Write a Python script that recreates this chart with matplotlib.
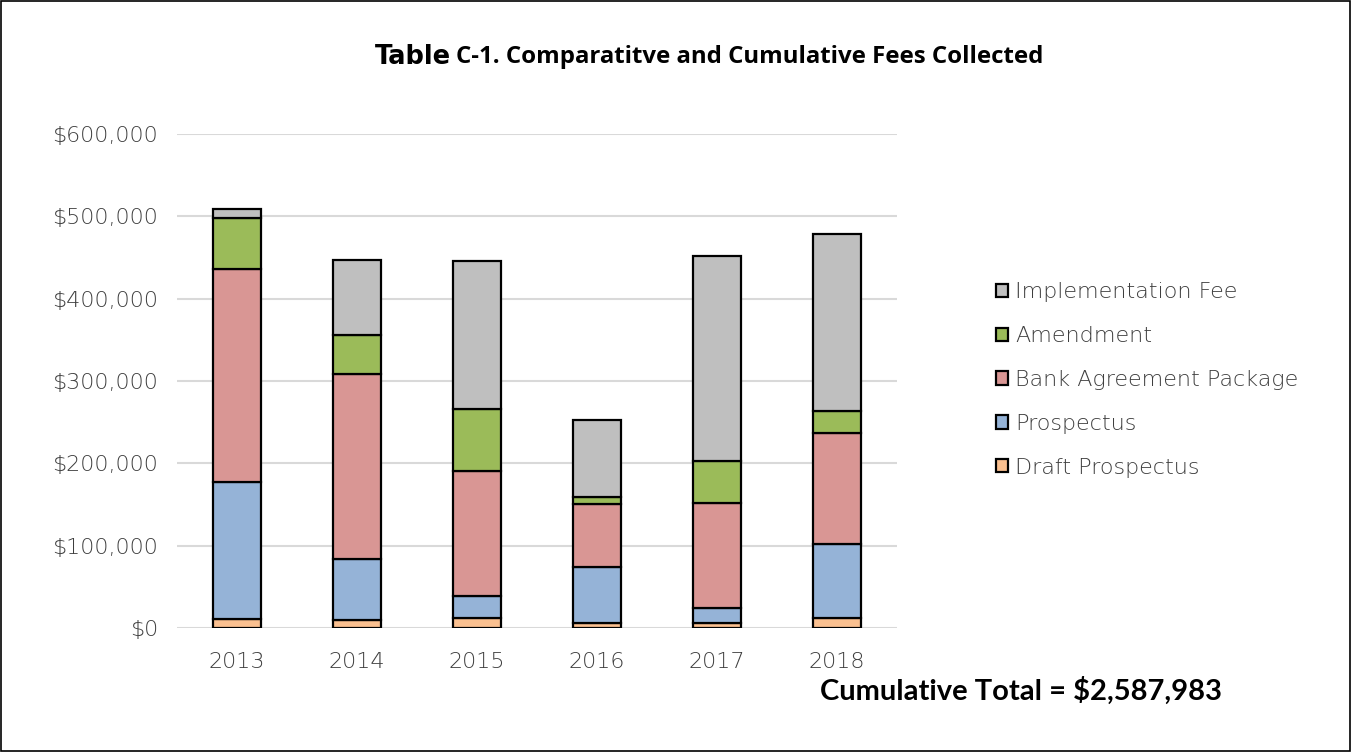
"""
Comparative and cumulative fees collected, stacked by fee type
"""

import matplotlib.pyplot as plt
from matplotlib.patches import Rectangle
from matplotlib.ticker import FuncFormatter

years = ["2013", "2014", "2015", "2016", "2017", "2018"]

# values in dollars, bottom to top of each stack
draft_prospectus = [11300, 9700, 11800, 6500, 5700, 12500]
prospectus = [165500, 73700, 27400, 67900, 18200, 89100]
bank_agreement = [259700, 225600, 151300, 76500, 127400, 135400]
amendment = [61500, 46600, 75700, 7700, 51700, 26300]
implementation_fee = [10500, 91000, 179600, 94200, 249300, 215200]

series = [
    ("Draft Prospectus", draft_prospectus, "#FAC090"),
    ("Prospectus", prospectus, "#95B3D7"),
    ("Bank Agreement Package", bank_agreement, "#D99694"),
    ("Amendment", amendment, "#9BBB59"),
    ("Implementation Fee", implementation_fee, "#BFBFBF"),
]

text_grey = "#3E3E3E"

fig = plt.figure(figsize=(13.51, 7.52), dpi=100)
ax = fig.add_axes([177 / 1351, 1 - 628 / 752, 720 / 1351, (628 - 134) / 752])

x = range(len(years))
bottom = [0] * len(years)
for name, vals, color in series:
    ax.bar(x, vals, width=0.4, bottom=bottom, color=color, edgecolor="black",
           linewidth=1.6, label=name, zorder=3)
    bottom = [b + v for b, v in zip(bottom, vals)]

ax.set_xlim(-0.5, len(years) - 0.5)
ax.set_ylim(0, 600000)
ax.set_yticks(range(0, 600001, 100000))
ax.yaxis.set_major_formatter(FuncFormatter(lambda v, p: "${:,.0f}".format(v)))
ax.set_xticks(list(x))
ax.set_xticklabels(years)
ax.grid(axis="y", color="#D9D9D9", linewidth=1.5, zorder=0)
for s in ax.spines.values():
    s.set_visible(False)
ax.tick_params(length=0, labelsize=16, labelcolor=text_grey)
ax.tick_params(axis="x", pad=17)
ax.tick_params(axis="y", pad=13.5)
for lab in ax.get_xticklabels() + ax.get_yticklabels():
    lab.set_family("DejaVu Sans")
    lab.set_fontweight("light")

handles, labels = ax.get_legend_handles_labels()
leg = fig.legend(handles[::-1], labels[::-1], loc="center left",
                 bbox_to_anchor=(976 / 1351, 1 - 380 / 752), frameon=False,
                 prop={"family": "DejaVu Sans", "size": 16, "weight": "light"},
                 handlelength=0.55, handleheight=0.55, handletextpad=0.3,
                 labelspacing=1.07, labelcolor=text_grey)

# title in two sizes
fig.text(451 / 1351, 1 - 57 / 752, "Table", ha="right", va="center",
         fontsize=18.5, fontweight="bold", family="DejaVu Sans")
fig.text(456 / 1351, 1 - 57 / 752, "C-1. Comparatitve and Cumulative Fees Collected",
         ha="left", va="center", fontsize=17.3, fontweight="bold", family="Open Sans")

fig.text(1222 / 1351, 1 - 691 / 752, "Cumulative Total = $2,587,983", ha="right",
         va="center", fontsize=21, fontweight="bold", family="Lato")

fig.patches.append(Rectangle((0.001, 0.001), 0.998, 0.998, transform=fig.transFigure,
                             fill=False, edgecolor="black", linewidth=1.2))

fig.savefig("out.png", dpi=100)
